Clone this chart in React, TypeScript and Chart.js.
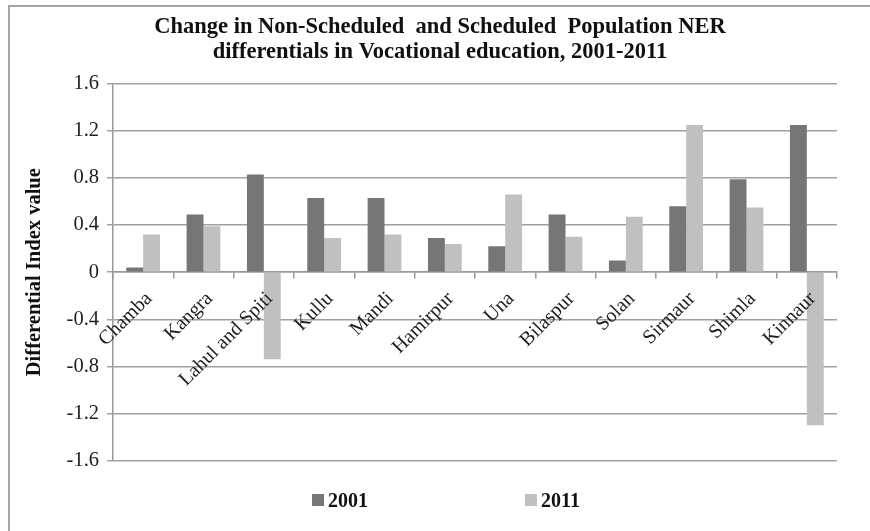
import React, { useEffect, useRef } from "react";
import { Chart, registerables } from "chart.js";

Chart.register(...registerables);

const categories = [
  "Chamba",
  "Kangra",
  "Lahul and Spiti",
  "Kullu",
  "Mandi",
  "Hamirpur",
  "Una",
  "Bilaspur",
  "Solan",
  "Sirmaur",
  "Shimla",
  "Kinnaur",
];
const seriesLabels = ["2001", "2011"];
const values2001 = [0.04, 0.49, 0.83, 0.63, 0.63, 0.29, 0.22, 0.49, 0.1, 0.56, 0.79, 1.25];
const values2011 = [0.32, 0.39, -0.74, 0.29, 0.32, 0.24, 0.66, 0.3, 0.47, 1.25, 0.55, -1.3];
const yTicks = [-1.6, -1.2, -0.8, -0.4, 0, 0.4, 0.8, 1.2, 1.6];
const titleLines = [
  "Change in Non-Scheduled  and Scheduled  Population NER",
  "differentials in Vocational education, 2001-2011",
];
const yAxisTitle = "Differential Index value";
const seriesColors = ["#767676", "#c0c0c0"];

const SERIF = "'Liberation Serif', 'Times New Roman', serif";

export default function App() {
  const canvasRef = useRef<HTMLCanvasElement | null>(null);

  useEffect(() => {
    const canvas = canvasRef.current;
    if (!canvas) return;
    const chart = new Chart(canvas, {
      type: "bar",
      data: {
        labels: categories,
        datasets: [
          {
            label: seriesLabels[0],
            data: values2001,
            backgroundColor: seriesColors[0],
            borderWidth: 0,
            categoryPercentage: 0.56,
            barPercentage: 1.0,
            yAxisID: "y",
          },
          {
            label: seriesLabels[1],
            data: values2011,
            backgroundColor: seriesColors[1],
            borderWidth: 0,
            categoryPercentage: 0.56,
            barPercentage: 1.0,
            yAxisID: "y",
          },
        ],
      },
      options: {
        responsive: false,
        animation: false,
        devicePixelRatio: 1,
        layout: { padding: { top: 0, left: 10, right: 0, bottom: 70.5 } },
        plugins: {
          legend: { display: false },
          tooltip: { enabled: false },
          title: {
            display: true,
            text: titleLines,
            color: "#111",
            font: { family: SERIF, size: 22.5, weight: "bold", lineHeight: 1.13 },
            padding: { top: 14.5, bottom: 18.5 },
          },
        },
        scales: {
          x: {
            position: { y: 0 } as any,
            grid: {
              display: true,
              drawOnChartArea: false,
              drawTicks: true,
              tickLength: 6,
              offset: true,
              color: "#999999",
              lineWidth: 1.5,
            },
            border: { display: true, color: "#999999", width: 1.5 },
            ticks: {
              z: 1,
              autoSkip: false,
              maxRotation: 45,
              minRotation: 45,
              padding: 9,
              labelOffset: 6,
              color: "#1e1e1e",
              font: { family: SERIF, size: 20 },
            },
          },
          y: {
            min: -1.6,
            max: 1.6,
            afterBuildTicks: (scale: any) => {
              scale.ticks = yTicks.map((v) => ({ value: v }));
            },
            afterFit: (scale: any) => {
              scale.width = 103;
            },
            grid: {
              color: "#a0a0a0",
              lineWidth: 1.5,
              drawTicks: true,
              tickLength: 6,
            },
            border: { display: true, color: "#999999", width: 1.5 },
            ticks: {
              padding: 8,
              color: "#1e1e1e",
              font: { family: SERIF, size: 20.5 },
              callback: (v: any) => String(v),
            },
            title: {
              display: true,
              text: yAxisTitle,
              color: "#111",
              font: { family: SERIF, size: 20.5, weight: "bold" },
              padding: { top: 12, bottom: 0 },
            },
          },
          yRight: {
            position: "right",
            display: true,
            min: -1.6,
            max: 1.6,
            grid: { display: false, drawTicks: false },
            border: { display: false },
            ticks: { display: false },
            afterFit: (scale: any) => {
              scale.width = 33;
            },
          },
        },
      },
    });
    return () => chart.destroy();
  }, []);

  const legendItem = (i: number) => (
    <div style={{ display: "flex", alignItems: "center" }}>
      <span
        style={{
          display: "inline-block",
          width: 12,
          height: 12,
          background: seriesColors[i],
          marginRight: 4,
        }}
      />
      <span>{seriesLabels[i]}</span>
    </div>
  );

  return (
    <div
      style={{
        position: "absolute",
        left: 0,
        top: 0,
        width: 870,
        height: 531,
        overflow: "hidden",
        background: "#ffffff",
      }}
    >
      <div
        style={{
          position: "absolute",
          left: 8,
          top: 5,
          width: 900,
          height: 600,
          borderLeft: "2.5px solid #a4a4a4",
          borderTop: "2.5px solid #a4a4a4",
        }}
      />
      <canvas
        ref={canvasRef}
        width={870}
        height={531}
        style={{ position: "absolute", left: 0, top: 0, width: 870, height: 531 }}
      />
      <div
        style={{
          position: "absolute",
          left: 312,
          top: 488,
          display: "flex",
          gap: 157,
          fontFamily: SERIF,
          fontWeight: "bold",
          fontSize: 20,
          lineHeight: "24px",
          color: "#111",
        }}
      >
        {legendItem(0)}
        {legendItem(1)}
      </div>
    </div>
  );
}
